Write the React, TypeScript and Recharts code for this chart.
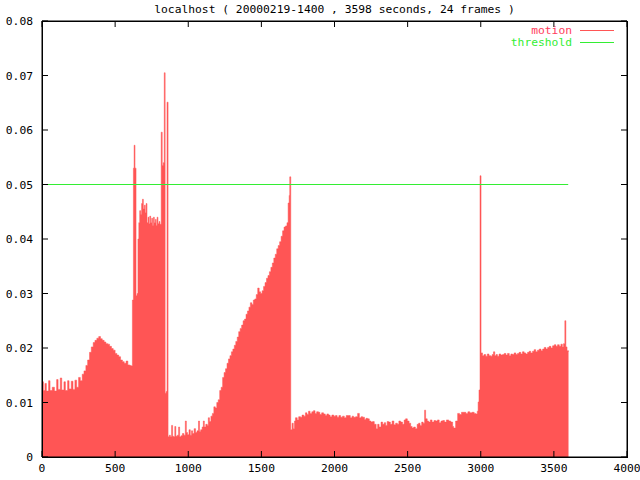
import React from "react";
import { ComposedChart, Area, Line, XAxis, YAxis, ReferenceLine } from "recharts";

// motion samples: [seconds, motion]
const MOTION: [number, number][] = [
  [0, 0.0138], [10, 0.0122], [20, 0.0135], [30, 0.0121], [45, 0.014], [55, 0.0122], [70, 0.0128],
  [85, 0.0121], [100, 0.0142], [110, 0.0124], [125, 0.0145], [135, 0.0123], [150, 0.0138], [160, 0.0122],
  [175, 0.014], [185, 0.0125], [200, 0.0139], [212, 0.0124], [225, 0.0141], [237, 0.0128], [250, 0.0146],
  [262, 0.014], [275, 0.0152], [287, 0.0158], [300, 0.0168], [312, 0.0178], [325, 0.0192], [337, 0.0202],
  [350, 0.021], [362, 0.0214], [375, 0.0218], [388, 0.0221], [400, 0.0217], [412, 0.0214], [425, 0.0211],
  [437, 0.0208], [450, 0.0207], [462, 0.0203], [475, 0.0199], [487, 0.0196], [500, 0.019], [512, 0.0187],
  [525, 0.0184], [537, 0.0178], [550, 0.0175], [562, 0.0172], [575, 0.0176], [587, 0.0169], [600, 0.0168],
  [610, 0.0167],
  [618, 0.0288], [625, 0.053], [630, 0.0572], [636, 0.053], [643, 0.0296], [650, 0.03], [656, 0.04],
  [662, 0.043], [668, 0.0452], [675, 0.0445], [681, 0.0465], [687, 0.0473], [693, 0.0455], [700, 0.0462],
  [706, 0.0448], [712, 0.0465], [718, 0.043], [725, 0.044], [731, 0.0428], [737, 0.0442], [743, 0.043],
  [750, 0.0438], [756, 0.0425], [762, 0.044], [768, 0.043], [775, 0.0436], [781, 0.0425], [787, 0.044],
  [793, 0.0428], [800, 0.0432], [806, 0.0427], [815, 0.0596], [822, 0.0535], [829, 0.054], [836, 0.0705],
  [842, 0.0117], [849, 0.012], [855, 0.0651], [862, 0.0037],
  [870, 0.004], [878, 0.0037], [886, 0.0058], [893, 0.0038], [900, 0.0037], [908, 0.0056], [915, 0.0038],
  [925, 0.004], [934, 0.0055], [941, 0.0037], [950, 0.0039], [960, 0.0043], [970, 0.004], [980, 0.0066],
  [987, 0.0045], [995, 0.0041], [1005, 0.005], [1014, 0.004], [1022, 0.0048], [1030, 0.0043], [1040, 0.0052],
  [1050, 0.0045], [1060, 0.0048], [1070, 0.0066], [1077, 0.0047], [1085, 0.005], [1095, 0.0055], [1103, 0.0066],
  [1110, 0.0055], [1120, 0.006], [1130, 0.0058], [1137, 0.0072], [1145, 0.0065], [1155, 0.0075], [1165, 0.008],
  [1175, 0.0092], [1185, 0.009], [1195, 0.01], [1205, 0.0105], [1215, 0.0122], [1225, 0.0128], [1235, 0.0146],
  [1245, 0.0155], [1255, 0.0162], [1265, 0.0172], [1275, 0.018], [1285, 0.0186], [1295, 0.0193], [1305, 0.0198],
  [1315, 0.0205], [1325, 0.0212], [1335, 0.022], [1345, 0.023], [1355, 0.0236], [1365, 0.0242], [1375, 0.025],
  [1385, 0.0253], [1395, 0.0262], [1405, 0.0268], [1415, 0.0275], [1425, 0.0283], [1435, 0.028], [1445, 0.0288],
  [1455, 0.029], [1465, 0.0298], [1475, 0.031], [1485, 0.0303], [1495, 0.03], [1505, 0.0305], [1515, 0.0313],
  [1525, 0.032], [1535, 0.0328], [1545, 0.0333], [1555, 0.034], [1565, 0.0348], [1575, 0.0356], [1585, 0.0365],
  [1595, 0.0372], [1605, 0.0382], [1615, 0.0388], [1625, 0.0395], [1635, 0.0405], [1645, 0.0415], [1655, 0.0422],
  [1665, 0.0424], [1675, 0.043], [1683, 0.0466], [1690, 0.048], [1694, 0.0514],
  [1701, 0.005], [1710, 0.0062], [1718, 0.0052], [1726, 0.0066], [1733, 0.0072], [1745, 0.0068], [1755, 0.0074],
  [1767, 0.0073], [1778, 0.0077], [1790, 0.0075], [1801, 0.0081], [1812, 0.0078], [1822, 0.0084], [1833, 0.008],
  [1845, 0.0083], [1856, 0.0085], [1867, 0.008], [1878, 0.0083], [1890, 0.0082], [1900, 0.0078], [1912, 0.0081],
  [1925, 0.0079], [1937, 0.0076], [1948, 0.0079], [1959, 0.0077], [1970, 0.0074], [1982, 0.0077], [1995, 0.0075],
  [2007, 0.0076], [2018, 0.0073], [2030, 0.0076], [2042, 0.0073], [2055, 0.0075], [2067, 0.0072], [2080, 0.0076],
  [2096, 0.0076], [2108, 0.0072], [2120, 0.0075], [2130, 0.0073], [2145, 0.0074], [2158, 0.008], [2170, 0.0072],
  [2182, 0.0074], [2192, 0.0073], [2205, 0.0069], [2215, 0.0071], [2226, 0.007], [2238, 0.0066], [2250, 0.0064],
  [2260, 0.0065], [2272, 0.006], [2285, 0.0052], [2295, 0.006], [2305, 0.0055], [2318, 0.0064], [2329, 0.006],
  [2340, 0.0063], [2350, 0.0058], [2360, 0.0065], [2370, 0.0064], [2382, 0.006], [2394, 0.0066], [2406, 0.0059],
  [2418, 0.0062], [2430, 0.006], [2440, 0.0066], [2452, 0.0064], [2465, 0.006], [2476, 0.0068], [2486, 0.007],
  [2498, 0.0066], [2510, 0.0062], [2521, 0.0056], [2531, 0.0053], [2541, 0.0055], [2553, 0.0052], [2565, 0.006],
  [2575, 0.0062], [2585, 0.0058], [2596, 0.0064], [2606, 0.0062], [2616, 0.0086], [2623, 0.007], [2634, 0.0066],
  [2644, 0.0064], [2655, 0.0068], [2667, 0.0064], [2680, 0.0067], [2692, 0.0066], [2704, 0.0068], [2716, 0.0063],
  [2728, 0.0066], [2740, 0.0067], [2752, 0.0064], [2765, 0.0068], [2781, 0.0066], [2795, 0.0064], [2808, 0.0056],
  [2815, 0.0053], [2828, 0.0066], [2842, 0.008], [2855, 0.0078], [2868, 0.0082], [2884, 0.0082], [2898, 0.008],
  [2912, 0.0083], [2925, 0.0081], [2940, 0.0082], [2955, 0.008], [2966, 0.0079], [2976, 0.0084], [2982, 0.0101],
  [2988, 0.0123], [2995, 0.0516],
  [3002, 0.0191], [3012, 0.0186], [3022, 0.0188], [3034, 0.0185], [3045, 0.0189], [3056, 0.0186], [3068, 0.0185],
  [3078, 0.0188], [3087, 0.0193], [3096, 0.0186], [3105, 0.0188], [3114, 0.0185], [3125, 0.0189], [3137, 0.0187],
  [3149, 0.0188], [3160, 0.019], [3172, 0.0187], [3183, 0.019], [3195, 0.0186], [3206, 0.0189], [3217, 0.0188],
  [3228, 0.0191], [3240, 0.0188], [3251, 0.019], [3262, 0.0192], [3274, 0.0189], [3285, 0.0193], [3297, 0.0191],
  [3308, 0.0189], [3320, 0.0192], [3331, 0.0194], [3342, 0.0191], [3354, 0.0194], [3365, 0.0197], [3376, 0.0193],
  [3388, 0.0196], [3400, 0.0198], [3412, 0.0195], [3423, 0.0198], [3434, 0.0201], [3446, 0.0198], [3457, 0.0201],
  [3468, 0.0203], [3480, 0.02], [3491, 0.0204], [3503, 0.0206], [3514, 0.0203], [3525, 0.0206], [3537, 0.0203],
  [3548, 0.0207], [3558, 0.0202], [3566, 0.0208], [3575, 0.025], [3582, 0.0202], [3590, 0.0195], [3600, 0.0193],
];

const THRESHOLD = 0.05;
const THRESHOLD_SPAN = [0, 3598];
const X_TICKS = [0, 500, 1000, 1500, 2000, 2500, 3000, 3500, 4000];
const Y_TICKS = [0, 0.01, 0.02, 0.03, 0.04, 0.05, 0.06, 0.07, 0.08];
const X_DOMAIN = [0, 4000];
const Y_DOMAIN = [0, 0.08];
const LEGEND = [
  { label: "motion", text: "#ff3b5c", line: "#ff5555" },
  { label: "threshold", text: "#33ee33", line: "#33ee33" },
];

const TITLE = "localhost ( 20000219-1400 , 3598 seconds, 24 frames )";
const FONT = "'DejaVu Sans Mono', monospace";
const RED = "#ff5555";
const GREEN = "#33ee33";
const INK = "#000000";
const TICK_LEN = 6;
const PLOT = { left: 42, right: 627, top: 21, bottom: 457 };

const motionData = MOTION.map(([sec, motion]) => ({ sec, motion }));
const thresholdData = THRESHOLD_SPAN.map((sec) => ({ sec, threshold: THRESHOLD }));

// gnuplot style: tick marks point into the plot on all four sides, labels outside
const BottomTick = ({ x, y, payload }: any) => (
  <g>
    <line x1={x} x2={x} y1={y} y2={y - TICK_LEN} stroke={INK} strokeWidth={1} />
    <line x1={x} x2={x} y1={PLOT.top} y2={PLOT.top + TICK_LEN} stroke={INK} strokeWidth={1} />
    <text x={x} y={y + 15} textAnchor="middle" fontFamily={FONT} fontSize={11.3} fill="#000">
      {payload.value}
    </text>
  </g>
);
const LeftTick = ({ x, y, payload }: any) => (
  <g>
    <line x1={x} x2={x + TICK_LEN} y1={y} y2={y} stroke={INK} strokeWidth={1} />
    <line x1={PLOT.right} x2={PLOT.right - TICK_LEN} y1={y} y2={y} stroke={INK} strokeWidth={1} />
    <text x={x - 9} y={y + 4} textAnchor="end" fontFamily={FONT} fontSize={11.3} fill="#000">
      {payload.value === 0 ? "0" : payload.value.toFixed(2)}
    </text>
  </g>
);

export default function App() {
  return (
    <div style={{ position: "absolute", left: 0, top: 0, width: 640, height: 480, background: "#fff" }}>
      <ComposedChart
        width={640}
        height={480}
        margin={{ top: PLOT.top, right: 640 - PLOT.right, left: 0, bottom: 0 }}
      >
        <XAxis
          dataKey="sec"
          type="number"
          domain={X_DOMAIN}
          ticks={X_TICKS}
          height={480 - PLOT.bottom}
          tickSize={0}
          tickMargin={0}
          tickLine={false}
          axisLine={{ stroke: INK }}
          tick={(p: any) => <BottomTick {...p} />}
          interval={0}
        />
        <YAxis
          type="number"
          domain={Y_DOMAIN}
          ticks={Y_TICKS}
          width={PLOT.left}
          tickSize={0}
          tickMargin={0}
          tickLine={false}
          axisLine={{ stroke: INK }}
          tick={(p: any) => <LeftTick {...p} />}
          interval={0}
        />
        <ReferenceLine y={Y_DOMAIN[1]} stroke={INK} />
        <ReferenceLine x={X_DOMAIN[1]} stroke={INK} />
        <Area
          data={motionData}
          dataKey="motion"
          name="motion"
          type="stepAfter"
          stroke={RED}
          strokeWidth={0.5}
          fill={RED}
          fillOpacity={1}
          dot={false}
          activeDot={false}
          isAnimationActive={false}
        />
        <Line
          data={thresholdData}
          dataKey="threshold"
          name="threshold"
          type="linear"
          stroke={GREEN}
          strokeWidth={1}
          dot={false}
          activeDot={false}
          isAnimationActive={false}
        />
      </ComposedChart>
      {/* plot frame */}
      <div
        style={{
          position: "absolute",
          left: PLOT.left,
          top: PLOT.top,
          width: PLOT.right - PLOT.left + 1,
          height: PLOT.bottom - PLOT.top + 1,
          border: `1px solid ${INK}`,
          boxSizing: "border-box",
          pointerEvents: "none",
        }}
      />
      <div
        style={{
          position: "absolute",
          top: 3,
          left: PLOT.left,
          width: PLOT.right - PLOT.left,
          textAlign: "center",
          fontFamily: FONT,
          fontSize: 11.3,
          color: "#000",
          whiteSpace: "pre",
        }}
      >
        {TITLE}
      </div>
      <div style={{ position: "absolute", top: 25, left: 500, fontFamily: FONT, fontSize: 11.3, lineHeight: "11.5px" }}>
        {LEGEND.map((r) => (
          <div key={r.label} style={{ display: "flex", alignItems: "center", height: 11.5 }}>
            <span style={{ width: 72, textAlign: "right", color: r.text }}>{r.label}</span>
            <span style={{ display: "inline-block", width: 34, height: 1, marginLeft: 8, background: r.line }} />
          </div>
        ))}
      </div>
    </div>
  );
}
